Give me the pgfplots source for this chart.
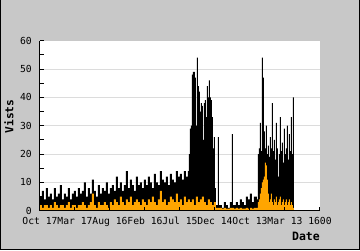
\documentclass[border=0pt]{standalone}
\usepackage{fontspec}
\setmainfont{DejaVu Sans Mono}
\usepackage{pgfplots}
\pgfplotsset{compat=1.18}
\definecolor{bgray}{RGB}{200,200,200}
\definecolor{gridgray}{RGB}{220,220,220}
\definecolor{vorange}{RGB}{255,165,0}
\begin{document}
\begin{tikzpicture}[x=1pt,y=1pt]
\useasboundingbox (0,0) rectangle (360,250);
\fill[bgray] (0,0) rectangle (360,250);
\begin{axis}[
  axis on top,
  at={(40pt,39.3pt)}, anchor=south west,
  scale only axis, width=280pt, height=170pt,
  xmin=0, xmax=280, ymin=0, ymax=60,
  axis background/.style={fill=white},
  axis x line*=bottom, axis y line*=left,
  axis line style={black, line width=1pt, -},
  tick style={black, line width=1pt},
  tick align=inside,
  major tick length=4pt, minor tick length=4pt,
  xtick={0,35,70,105,140,175,210,245,280},
  xticklabels={Oct 17,Mar 17,Aug 16,Feb 16,Jul 15,Dec 14,Oct 13,Mar 13,1600},
  ytick={0,10,20,30,40,50,60},
  minor ytick={5,15,25,35,45,55},
  /pgf/number format/assume math mode=true,
  ticklabel style={font=\fontsize{9.7}{10}\selectfont, inner sep=0pt},
  xticklabel style={anchor=north, yshift=-6.6pt},
  yticklabel style={anchor=east, xshift=-8pt},
]
\foreach \g in {10,20,30,40,50} {
  \edef\tmp{\noexpand\draw[gridgray, line width=1pt] (axis cs:0,\g) -- (axis cs:280,\g);}
  \tmp
}
\addplot[fill=black, draw=none, const plot mark left] coordinates {
(0,5)(2,7)(4,4)(6,8)(8,5)(10,6)(12,4)(14,8)(16,5)(18,6)(20,9)(22,4)(24,6)(26,5)(28,8)(30,4)(32,6)(34,7)
(36,5)(38,8)(40,6)(42,7)(44,10)(46,5)(48,8)(50,6)(52,11)(54,7)(56,5)(58,9)(60,6)(62,8)(64,7)(66,10)(68,6)
(70,8)(72,9)(74,7)(76,12)(78,8)(80,10)(82,7)(84,9)(86,14)(88,8)(90,11)(92,9)(94,7)(96,12)(98,9)(100,10)(102,8)(104,11)
(106,9)(108,12)(110,10)(112,8)(114,13)(116,10)(118,9)(120,14)(122,11)(124,10)(126,12)(128,9)(130,13)(132,11)(134,10)(136,14)(138,12)(140,13)(142,11)(144,14)(146,12)
(148,14)(149,20)(150,29)(151,30)(152,48)(153,49)(154,49)(155,47)(156,30)(157,54)(158,44)(159,42)(160,35)(161,38)(162,37)(163,25)(164,38)(165,39)(166,33)(167,44)(168,40)(169,46)(170,40)(171,39)(172,33)(173,22)(174,26)(175,8)
(176,2)(178,26)(179,2)(180,2)(182,1)(184,3)(186,2)(188,1)(190,3)(192,27)(193,2)(194,2)(196,3)(198,2)(200,4)(202,3)(204,2)(206,5)(208,4)(210,6)(212,3)(214,5)
(216,5)(217,4)(218,20)(219,22)(220,31)(221,21)(222,54)(223,47)(224,28)(225,22)(226,30)(227,20)(228,23)(229,19)(230,26)(231,22)(232,38)(233,21)(234,25)(235,18)(236,31)(237,22)(238,12)(239,20)(240,33)(241,21)(242,24)(243,17)(244,29)(245,20)(246,22)(247,30)(248,18)(249,27)(250,21)(251,33)(252,20)(253,40)(254,40)
} \closedcycle;
\addplot[fill=vorange, draw=none, const plot mark left] coordinates {
(0,2)(2,1)(4,2)(6,2)(8,1)(10,2)(12,1)(14,3)(16,2)(18,1)(20,2)(22,2)(24,1)(26,2)(28,3)(30,1)(32,2)(34,2)
(36,1)(38,2)(40,2)(42,3)(44,2)(46,1)(48,2)(50,3)(52,6)(54,2)(56,1)(58,3)(60,2)(62,2)(64,3)(66,2)(68,1)
(70,3)(72,2)(74,4)(76,3)(78,2)(80,5)(82,3)(84,2)(86,4)(88,3)(90,5)(92,2)(94,3)(96,4)(98,3)(100,2)(102,4)(104,3)
(106,2)(108,4)(110,3)(112,5)(114,3)(116,2)(118,4)(120,7)(122,3)(124,4)(126,2)(128,3)(130,5)(132,4)(134,3)(136,6)(138,3)(140,4)(142,2)(144,5)(146,3)(148,4)
(150,3)(152,4)(154,2)(156,5)(158,3)(160,4)(162,5)(164,3)(166,2)(168,4)(170,3)(172,2)(174,3)
(176,1)(178,1)(180,1)(182,0.7)(184,1)(186,0.7)(188,0.7)(190,1)(192,1)(194,0.7)(196,1)(198,0.7)(200,1)(202,0.7)(204,0.7)(206,1)(208,0.7)(210,1)(212,0.7)(214,1)
(216,1)(217,1)(218,3)(219,4)(220,6)(221,8)(222,10)(223,11)(224,12)(225,17)(226,16)(227,11)(228,6)(229,3)(230,4)(231,6)(232,3)(233,2)(234,4)(235,3)(236,5)(237,2)(238,3)(239,4)(240,5)(241,2)(242,3)(243,4)(244,2)(245,3)(246,4)(247,2)(248,3)(249,4)(250,2)(251,3)(252,2)(253,1)(254,1)
} \closedcycle;
\end{axis}
\node[font=\fontsize{11.5}{12}\selectfont\bfseries, anchor=north east, inner sep=0pt] at (320,18.3) {Date};
\node[font=\fontsize{11.2}{12}\selectfont\bfseries, rotate=90, inner sep=0pt] at (8.8,133.5) {Vists};
\draw[black, line width=1pt] (0.5,250) -- (0.5,0.5) -- (359.5,0.5) -- (359.5,250);
\end{tikzpicture}
\end{document}
